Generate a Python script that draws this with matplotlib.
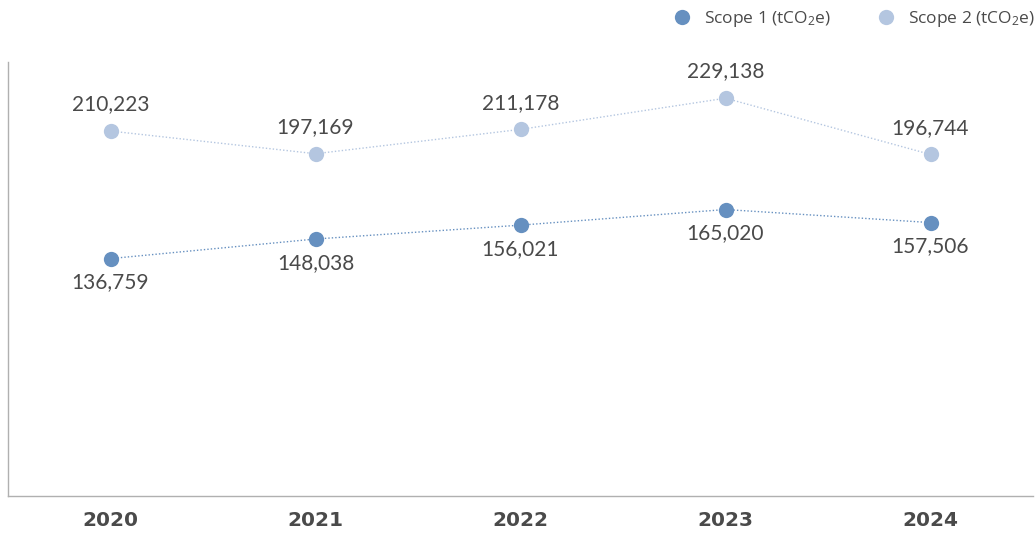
import matplotlib.pyplot as plt

plt.rcParams['font.family'] = ['Lato', 'DejaVu Sans']
plt.rcParams['mathtext.default'] = 'regular'

years = ['2020', '2021', '2022', '2023', '2024']
scope1 = [136759, 148038, 156021, 165020, 157506]
scope2 = [210223, 197169, 211178, 229138, 196744]

c1 = '#6690c0'
c2 = '#b4c6e0'
label_color = '#4a4a4a'

fig = plt.figure(figsize=(10.36, 5.33), dpi=100)
ax = fig.add_axes([8 / 1036, 1 - 496 / 533, 1025 / 1036, 434 / 533])

x = list(range(len(years)))
ax.plot(x, scope2, color=c2, lw=1, ls=(0, (1, 1.5)), marker='o', ms=11,
        mec='none', label='Scope 2 (tCO$_2$e)', zorder=3)
ax.plot(x, scope1, color=c1, lw=1, ls=(0, (1, 1.5)), marker='o', ms=11,
        mec='none', label='Scope 1 (tCO$_2$e)', zorder=3)

for xi, v in zip(x, scope2):
    ax.annotate(f'{v:,}', (xi, v), xytext=(0, 12), textcoords='offset points',
                ha='center', va='bottom', fontsize=15, color=label_color)
for xi, v in zip(x, scope1):
    ax.annotate(f'{v:,}', (xi, v), xytext=(0, -10), textcoords='offset points',
                ha='center', va='top', fontsize=15, color=label_color)

ax.set_xlim(-0.5, len(years) - 0.5)
ax.set_ylim(0, 250000)
ax.set_xticks(x)
ax.set_xticklabels(years, fontsize=14.5, fontweight='bold', color=label_color,
                   family='DejaVu Sans')
ax.tick_params(axis='x', length=0, pad=11)
ax.set_yticks([])
for side in ['top', 'right']:
    ax.spines[side].set_visible(False)
for side in ['left', 'bottom']:
    ax.spines[side].set_color('#b0b0b0')
    ax.spines[side].set_linewidth(1)

# legend in the top right corner
handles, labels = ax.get_legend_handles_labels()
leg = fig.legend(handles[::-1], labels[::-1], loc='upper right',
                 bbox_to_anchor=(1.014, 1.0125), ncol=2, frameon=False,
                 prop={'family': 'Open Sans', 'size': 12.5},
                 handlelength=0.6, handletextpad=0.95,
                 columnspacing=2.85, markerscale=1.0)
for line in leg.get_lines():
    line.set_linestyle('none')
for t in leg.get_texts():
    t.set_color(label_color)

fig.savefig('out.png', dpi=100)
